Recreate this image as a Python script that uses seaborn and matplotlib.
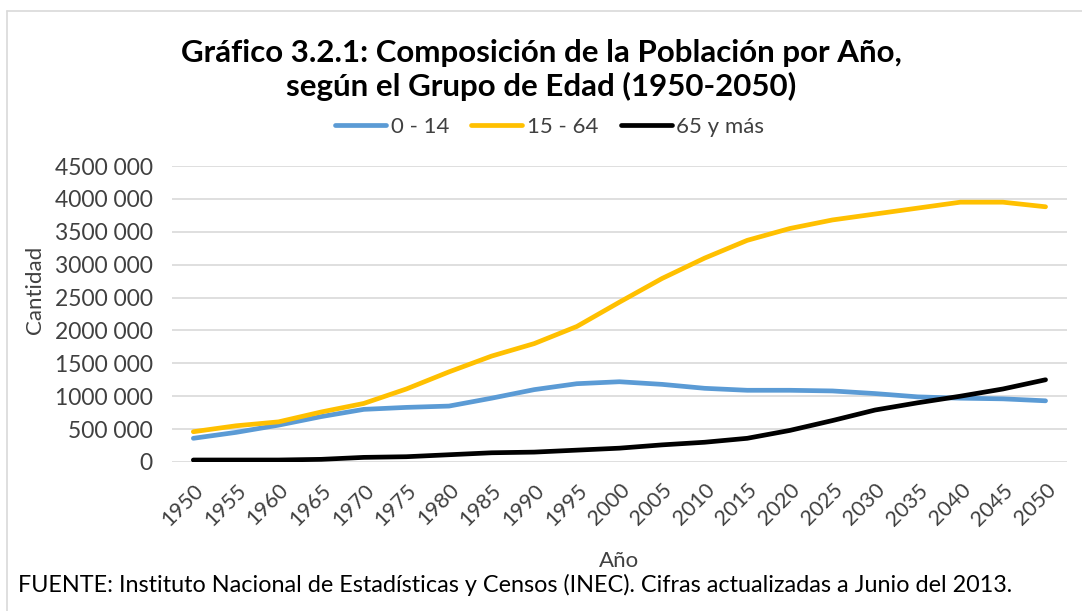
import numpy as np
import pandas as pd
import seaborn as sns
import matplotlib.pyplot as plt
from matplotlib.lines import Line2D
from matplotlib.ticker import FuncFormatter

# Datos
anios = [1950, 1955, 1960, 1965, 1970, 1975, 1980, 1985, 1990, 1995, 2000,
         2005, 2010, 2015, 2020, 2025, 2030, 2035, 2040, 2045, 2050]
grupo_0_14 = [360000, 450000, 560000, 690000, 800000, 830000, 850000, 970000,
              1100000, 1190000, 1220000, 1180000, 1120000, 1090000, 1090000,
              1080000, 1040000, 990000, 970000, 960000, 930000]
grupo_15_64 = [460000, 550000, 610000, 760000, 890000, 1110000, 1370000,
               1610000, 1800000, 2060000, 2430000, 2790000, 3100000, 3370000,
               3550000, 3680000, 3770000, 3860000, 3950000, 3950000, 3880000]
grupo_65 = [30000, 30000, 30000, 40000, 70000, 80000, 110000, 140000, 150000,
            180000, 210000, 260000, 300000, 360000, 480000, 630000, 790000,
            900000, 1000000, 1110000, 1250000]
series = ['0 - 14', '15 - 64', '65 y más']
colores = ['#5B9BD5', '#FFC000', '#000000']
y_ticks = [0, 500000, 1000000, 1500000, 2000000, 2500000, 3000000,
           3500000, 4000000, 4500000]

df = pd.DataFrame({'Año': anios * 3,
                   'Cantidad': grupo_0_14 + grupo_15_64 + grupo_65,
                   'Grupo': [s for s in series for _ in anios]})

sns.set_theme(style='white')
plt.rcParams['font.family'] = ['Lato', 'DejaVu Sans']

fig = plt.figure(figsize=(10.82, 6.11), dpi=100)
ax = fig.add_axes([0.159, 0.2439, 0.986 - 0.159, 0.7283 - 0.2439])

sns.lineplot(data=df, x='Año', y='Cantidad', hue='Grupo', hue_order=series,
             palette=colores, linewidth=3.4, ax=ax, legend=False)

ax.set_xlim(1947.5, 2052.5)
ax.set_ylim(0, 4500000)
ax.set_xticks(anios)
ax.set_xticklabels([str(a) for a in anios], rotation=45, ha='right',
                   rotation_mode='anchor', fontsize=15.5, color='#404040')
ax.set_yticks(y_ticks)


def formato_miles(v, pos):
    v = int(v)
    if v >= 1000:
        return f'{v // 1000} {v % 1000:03d}'
    return str(v)


ax.yaxis.set_major_formatter(FuncFormatter(formato_miles))
ax.tick_params(axis='y', labelsize=16.5, labelcolor='#404040', pad=14, length=0)
ax.tick_params(axis='x', length=0, pad=13)
ax.grid(axis='y', color='#d9d9d9', linewidth=1.2)
ax.set_axisbelow(True)
for s in ax.spines.values():
    s.set_visible(False)

ax.set_xlabel('Año', fontsize=16, color='#404040')
ax.set_ylabel('Cantidad', fontsize=16, color='#404040')
ax.xaxis.set_label_coords(0.5, -0.3)
ax.yaxis.set_label_coords(-0.142, 0.58)

fig.text(0.5, 0.885, 'Gráfico 3.2.1: Composición de la Población por Año,\n'
         'según el Grupo de Edad (1950-2050)', ha='center', va='center',
         fontsize=22.5, fontweight='bold', color='#000000', linespacing=1.22)

handles = [Line2D([], [], color=c, linewidth=3.4) for c in colores]
fig.legend(handles, series, loc='center', bbox_to_anchor=(0.508, 0.792),
           ncol=3, frameon=False, fontsize=16, handlelength=2.3,
           handletextpad=0.2, columnspacing=1.0, labelcolor='#404040')

fig.text(0.017, 0.043, 'FUENTE: Instituto Nacional de Estadísticas y Censos (INEC). '
         'Cifras actualizadas a Junio del 2013.', ha='left', va='center',
         fontsize=16.8, color='#000000')

# marco del gráfico
fig.add_artist(Line2D([7 / 1082, 7 / 1082], [0, 1 - 11 / 611], color='#d9d9d9',
                      linewidth=1.2, transform=fig.transFigure))
fig.add_artist(Line2D([7 / 1082, 1], [1 - 11 / 611, 1 - 11 / 611], color='#d9d9d9',
                      linewidth=1.2, transform=fig.transFigure))

fig.savefig('out.png', dpi=100)
